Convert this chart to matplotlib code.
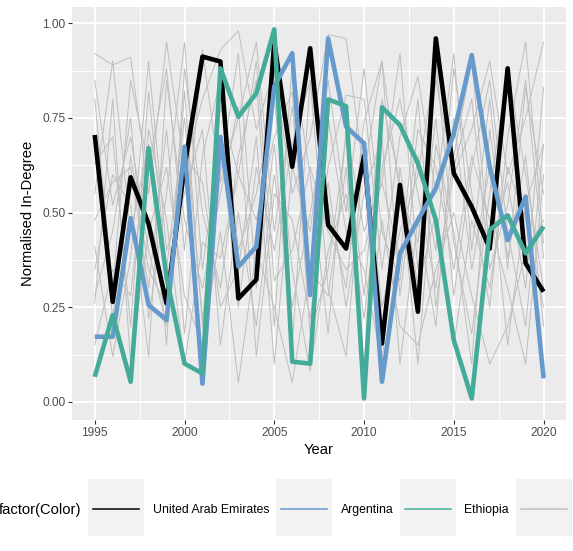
import matplotlib
matplotlib.use("Agg")
import matplotlib.pyplot as plt
from matplotlib.lines import Line2D
from matplotlib.patches import Rectangle
import numpy as np

plt.rcParams['font.family'] = ['Liberation Sans', 'DejaVu Sans']

years = list(range(1995, 2021))

uae = [0.705, 0.264, 0.593, 0.47, 0.26, 0.62, 0.912, 0.899, 0.273, 0.323,
       0.95, 0.621, 0.934, 0.467, 0.405, 0.65, 0.154, 0.573, 0.238, 0.960,
       0.604, 0.515, 0.405, 0.881, 0.366, 0.291]
argentina = [0.172, 0.172, 0.485, 0.256, 0.216, 0.674, 0.048, 0.700, 0.357, 0.41,
             0.833, 0.921, 0.282, 0.960, 0.727, 0.683, 0.053, 0.392, 0.48, 0.564,
             0.709, 0.916, 0.621, 0.427, 0.542, 0.062]
ethiopia = [0.066, 0.229, 0.053, 0.670, 0.33, 0.101, 0.075, 0.881, 0.753, 0.815,
            0.984, 0.106, 0.101, 0.799, 0.781, 0.009, 0.778, 0.731, 0.63, 0.48,
            0.163, 0.009, 0.454, 0.493, 0.392, 0.463]

others = [
    [0.92, 0.89, 0.91, 0.55, 0.95, 0.62, 0.80, 0.93, 0.98, 0.72, 0.88, 0.55, 0.70, 0.97, 0.96, 0.60, 0.90, 0.55, 0.42, 0.85, 0.60, 0.72, 0.90, 0.60, 0.75, 0.95],
    [0.80, 0.30, 0.85, 0.62, 0.88, 0.40, 0.93, 0.58, 0.75, 0.95, 0.45, 0.78, 0.30, 0.62, 0.81, 0.80, 0.35, 0.70, 0.86, 0.55, 0.92, 0.40, 0.80, 0.35, 0.83, 0.55],
    [0.63, 0.70, 0.20, 0.82, 0.35, 0.75, 0.22, 0.60, 0.92, 0.30, 0.68, 0.15, 0.85, 0.52, 0.30, 0.74, 0.90, 0.28, 0.65, 0.40, 0.88, 0.55, 0.25, 0.70, 0.95, 0.42],
    [0.55, 0.90, 0.45, 0.68, 0.15, 0.88, 0.50, 0.30, 0.65, 0.85, 0.20, 0.90, 0.60, 0.18, 0.72, 0.45, 0.58, 0.92, 0.35, 0.75, 0.28, 0.62, 0.85, 0.45, 0.20, 0.68],
    [0.48, 0.58, 0.62, 0.30, 0.72, 0.18, 0.65, 0.85, 0.40, 0.55, 0.80, 0.35, 0.08, 0.40, 0.55, 0.22, 0.62, 0.80, 0.55, 0.30, 0.65, 0.90, 0.40, 0.58, 0.30, 0.83],
    [0.28, 0.45, 0.75, 0.22, 0.55, 0.95, 0.35, 0.70, 0.25, 0.62, 0.40, 0.68, 0.85, 0.30, 0.12, 0.68, 0.25, 0.45, 0.60, 0.90, 0.42, 0.18, 0.55, 0.88, 0.60, 0.30],
    [0.41, 0.12, 0.38, 0.90, 0.40, 0.55, 0.72, 0.15, 0.50, 0.20, 0.60, 0.25, 0.50, 0.75, 0.45, 0.35, 0.10, 0.62, 0.30, 0.50, 0.15, 0.48, 0.30, 0.62, 0.48, 0.25],
    [0.26, 0.80, 0.10, 0.45, 0.62, 0.28, 0.15, 0.45, 0.05, 0.40, 0.25, 0.05, 0.35, 0.28, 0.62, 0.10, 0.48, 0.20, 0.15, 0.35, 0.50, 0.28, 0.10, 0.20, 0.40, 0.48],
    [0.35, 0.60, 0.52, 0.12, 0.85, 0.48, 0.30, 0.55, 0.78, 0.12, 0.55, 0.48, 0.22, 0.58, 0.25, 0.55, 0.70, 0.10, 0.48, 0.20, 0.75, 0.35, 0.62, 0.15, 0.52, 0.68],
    [0.70, 0.22, 0.65, 0.35, 0.25, 0.65, 0.58, 0.25, 0.35, 0.70, 0.10, 0.62, 0.45, 0.85, 0.50, 0.88, 0.45, 0.32, 0.72, 0.62, 0.35, 0.65, 0.48, 0.30, 0.10, 0.60],
    [0.15, 0.35, 0.28, 0.72, 0.48, 0.10, 0.42, 0.38, 0.60, 0.48, 0.70, 0.82, 0.18, 0.35, 0.70, 0.28, 0.80, 0.58, 0.10, 0.68, 0.45, 0.10, 0.72, 0.38, 0.65, 0.20],
    [0.85, 0.52, 0.70, 0.40, 0.20, 0.82, 0.20, 0.78, 0.60, 0.90, 0.32, 0.40, 0.62, 0.45, 0.35, 0.40, 0.58, 0.38, 0.80, 0.25, 0.62, 0.80, 0.35, 0.52, 0.85, 0.38],
]

series_names = ["United Arab Emirates", "Argentina", "Ethiopia", ""]
series_colors = ["#000000", "#6699CC", "#44AA99", "#BEBEBE"]

W, H = 573, 551
fig = plt.figure(figsize=(W / 100, H / 100), dpi=100)

def fx(px):
    return px / W

def fy(py):
    return 1 - py / H

left, right, top, bottom = 72.3, 566.0, 7.0, 420.0
ax = fig.add_axes([fx(left), fy(bottom), fx(right - left), (bottom - top) / H])
ax.set_facecolor("#EBEBEB")
for s in ax.spines.values():
    s.set_visible(False)

ax.set_xlim(1993.75, 2021.25)
ax.set_ylim(-0.048, 1.043)
ax.set_xticks([1995, 2000, 2005, 2010, 2015, 2020])
ax.set_xticks([1997.5, 2002.5, 2007.5, 2012.5, 2017.5], minor=True)
ax.set_yticks([0, 0.25, 0.5, 0.75, 1.0])
ax.set_yticklabels(["0.00", "0.25", "0.50", "0.75", "1.00"])
ax.set_yticks([0.125, 0.375, 0.625, 0.875], minor=True)
ax.grid(which="major", color="white", linewidth=1.3)
ax.grid(which="minor", color="white", linewidth=0.65)
ax.set_axisbelow(True)
ax.tick_params(which="major", length=3.0, width=0.8, color="#333333",
               labelcolor="#4D4D4D", labelsize=8.6, pad=2)
ax.tick_params(which="minor", length=0)

for g in others:
    ax.plot(years, g, color=series_colors[3], linewidth=0.7, zorder=2)

for vals, c in zip([uae, argentina, ethiopia], series_colors[:3]):
    ax.plot(years, vals, color=c, linewidth=3.3, zorder=3,
            solid_joinstyle="round", solid_capstyle="butt")

ax.set_xlabel("Year", fontsize=10.6, color="black", labelpad=3)
ax.set_ylabel("Normalised In-Degree", fontsize=10.6, color="black", labelpad=5)

# legend (ggplot style, horizontal at bottom, clipped by figure edge)
ly = 508.5
fig.text(fx(81.3), fy(510), "factor(Color)", fontsize=10.6, ha="right", va="center")
key_x = [88.2, 276.4, 400.0, 516.0]
label_x = [152.7, 340.5, 464.2, 580.0]
for kx, lx, name, c in zip(key_x, label_x, series_names, series_colors):
    fig.add_artist(Rectangle((fx(kx), fy(535.7)), fx(56), 56.7 / H,
                             facecolor="#F2F2F2", edgecolor="none",
                             transform=fig.transFigure, zorder=1))
    fig.add_artist(Line2D([fx(kx + 5), fx(kx + 51)], [fy(ly), fy(ly)],
                          color=c, linewidth=1.1, transform=fig.transFigure,
                          zorder=5))
    if name:
        fig.text(fx(lx), fy(510), name, fontsize=8.8, ha="left", va="center")

fig.savefig("out.png", dpi=100)
